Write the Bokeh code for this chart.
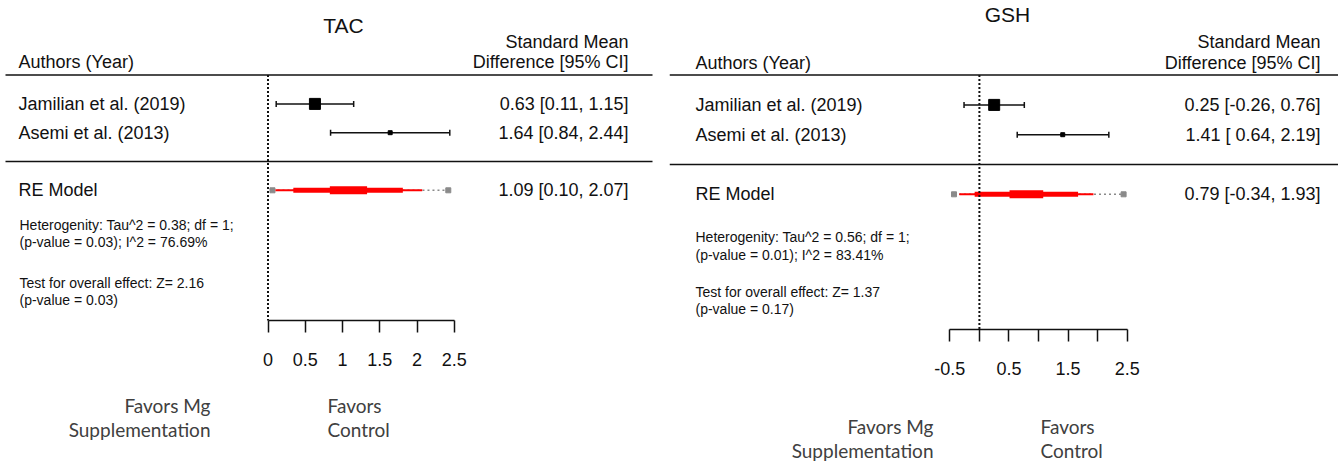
import numpy as np
from bokeh.plotting import figure
from bokeh.models import Range1d, LinearAxis, FixedTicker, CustomJSTickFormatter, Label
from bokeh.layouts import row
from bokeh.core.properties import value
from bokeh.embed import file_html
from bokeh.resources import INLINE

# ---------------- data ----------------
studies = ["Jamilian et al. (2019)", "Asemi et al. (2013)"]

# Total antioxidant capacity
tac_est = [0.63, 1.64]
tac_lo = [0.11, 0.84]
tac_hi = [1.15, 2.44]
tac_re = [1.09, 0.10, 2.07]          # pooled estimate, lower, upper
tac_re_mid = [0.34, 1.81]
tac_re_core = [0.83, 1.33]
tac_re_pred = [0.06, 2.42]
tac_ticks = [0, 0.5, 1, 1.5, 2, 2.5]
tac_tick_labels = ["0", "0.5", "1", "1.5", "2", "2.5"]
tac_het = ["Heterogenity: Tau^2 = 0.38; df = 1;", "(p-value = 0.03); I^2 = 76.69%"]
tac_test = ["Test for overall effect: Z= 2.16", "(p-value = 0.03)"]

# Glutathione
gsh_est = [0.25, 1.41]
gsh_lo = [-0.26, 0.64]
gsh_hi = [0.76, 2.19]
gsh_re = [0.79, -0.34, 1.93]
gsh_re_mid = [-0.08, 1.67]
gsh_re_core = [0.51, 1.08]
gsh_re_pred = [-0.43, 2.44]
gsh_ticks = [-0.5, 0, 0.5, 1, 1.5, 2, 2.5]
gsh_tick_labels = ["-0.5", "", "0.5", "", "1.5", "", "2.5"]
gsh_het = ["Heterogenity: Tau^2 = 0.56; df = 1;", "(p-value = 0.01); I^2 = 83.41%"]
gsh_test = ["Test for overall effect: Z= 1.37", "(p-value = 0.17)"]

FONT = "Liberation Sans"
SIDE = "Lato"
INK = "#111111"
W, H = 669, 462


def fmt_column(est, lo, hi):
    e = [f"{v:.2f}" for v in est]
    l = [f"{v:.2f}" for v in lo]
    h = [f"{v:.2f}" for v in hi]
    we, wl, wh = max(map(len, e)), max(map(len, l)), max(map(len, h))
    return [f"{a.rjust(we)} [{b.rjust(wl)}, {c.rjust(wh)}]" for a, b, c in zip(e, l, h)]


def panel(title, est, lo, hi, re, re_mid, re_core, re_pred, ticks, tick_labels,
          het, test, lay):
    zero, ppu, row0, step, axis_y = lay["zero"], lay["ppu"], lay["row0"], lay["step"], lay["axis_y"]

    def px2x(px):
        return (px - zero) / ppu

    y_top = row0 / step
    y_bottom = (row0 - H) / step
    y_axis = (row0 - axis_y) / step
    p = figure(width=W, height=H, output_backend="svg", toolbar_location=None,
               x_range=Range1d(px2x(0), px2x(W)), y_range=Range1d(y_bottom, y_top),
               x_axis_type=None, y_axis_type=None,
               min_border_left=0, min_border_right=0, min_border_top=0,
               min_border_bottom=0)
    p.outline_line_color = None
    p.background_fill_color = "white"
    p.border_fill_color = "white"

    def label(txt, x, y, align="left", size=18, font=FONT, color=INK):
        p.add_layout(Label(x=x, y=H - y, x_units="screen", y_units="screen",
                           text=txt, text_align=align, text_baseline="middle",
                           text_font_size=f"{size}px", text_font=font, text_color=color))

    k = len(est)
    ys = list(range(k, 0, -1))

    # separating rules
    xa, xb = px2x(lay["rule"][0]), px2x(lay["rule"][1])
    p.segment(x0=[xa, xa], y0=[k + 1, 0], x1=[xb, xb], y1=[k + 1, 0],
              line_color=INK, line_width=1.5)

    # pooled estimate: prediction interval, CI and inner bands
    p.segment(x0=[re_pred[0]], y0=[-1], x1=[re_pred[1]], y1=[-1],
              line_color="#8a8a8a", line_width=1.5, line_dash="2 3")
    p.scatter(x=re_pred, y=[-1, -1], marker="square", size=5,
              fill_color="#8a8a8a", line_color="#8a8a8a")
    p.segment(x0=[re[1]], y0=[-1], x1=[re[2]], y1=[-1],
              line_color="#ff0000", line_width=2, line_cap="butt")
    p.segment(x0=[re_mid[0]], y0=[-1], x1=[re_mid[1]], y1=[-1],
              line_color="#ff0000", line_width=5, line_cap="butt")
    p.segment(x0=[re_core[0]], y0=[-1], x1=[re_core[1]], y1=[-1],
              line_color="#ff0000", line_width=8, line_cap="butt")

    # study confidence intervals
    p.segment(x0=lo, y0=ys, x1=hi, y1=ys, line_color=INK, line_width=1.5)
    p.scatter(x=lo + hi, y=ys + ys, marker="dash", angle=np.pi / 2, size=6,
              line_color=INK, line_width=1.5)
    p.scatter(x=est, y=ys, marker="square", size=lay["sq"],
              fill_color="#000000", line_color="#000000")

    # line of no effect
    p.segment(x0=[0], y0=[k + 1], x1=[0], y1=[y_axis], line_color=INK,
              line_width=2, line_dash="2 2")

    # row labels and values
    p.text(x=[px2x(lay["left"])] * (k + 1), y=ys + [-1], text=studies + ["RE Model"],
           text_font=value(FONT), text_font_size="18px", text_baseline="middle",
           text_align="left", text_color=INK)
    p.text(x=[px2x(lay["right"])] * (k + 1), y=ys + [-1],
           text=fmt_column(est + [re[0]], lo + [re[1]], hi + [re[2]]),
           text_font=value(FONT), text_font_size="18px", text_baseline="middle",
           text_align="right", text_color=INK)

    # headers
    label(title, lay["title"][0], lay["title"][1], align="center", size=21)
    label("Authors (Year)", lay["left"], lay["hdr_y"][1])
    label("Standard Mean", lay["right"], lay["hdr_y"][0], align="right")
    label("Difference [95% CI]", lay["right"], lay["hdr_y"][1], align="right")

    # heterogeneity and overall test
    for txt, yy in zip(het + test, lay["het_y"]):
        label(txt, lay["het_x"], yy, size=14)

    # direction captions
    fy = lay["fav_y"]
    label("Favors Mg", lay["fav_r"], fy[0], align="right", size=19, font=SIDE, color="#404040")
    label("Supplementation", lay["fav_r"], fy[1], align="right", size=19, font=SIDE, color="#404040")
    label("Favors", lay["fav_l"], fy[0], size=19, font=SIDE, color="#404040")
    label("Control", lay["fav_l"], fy[1], size=19, font=SIDE, color="#404040")

    # effect-size axis, pinned at its row inside the frame
    ax = LinearAxis(ticker=FixedTicker(ticks=ticks),
                    formatter=CustomJSTickFormatter(args=dict(labels=tick_labels),
                                                    code="return labels[index];"),
                    fixed_location=y_axis)
    ax.bounds = (min(ticks), max(ticks))
    ax.axis_line_width = 1.5
    ax.axis_line_color = INK
    ax.major_tick_line_width = 1.5
    ax.major_tick_line_color = INK
    ax.major_tick_out = 12
    ax.major_tick_in = 0
    ax.minor_tick_out = 0
    ax.minor_tick_in = 0
    ax.major_label_standoff = 20
    ax.major_label_text_font = FONT
    ax.major_label_text_font_size = "18px"
    ax.major_label_text_color = INK
    p.add_layout(ax, "below")
    return p


tac_layout = dict(zero=267.5, ppu=74.5, row0=161, step=28.8, axis_y=320, sq=[11, 4],
                  rule=(5, 652), left=18, right=628, title=(343, 25), hdr_y=(41, 61),
                  het_x=19, het_y=(224, 241, 282, 299),
                  fav_r=210, fav_l=327, fav_y=(405, 429))
gsh_layout = dict(zero=309.9, ppu=59.1, row0=164, step=29.8, axis_y=329, sq=[11, 4],
                  rule=(0, 669), left=26, right=651, title=(338, 14), hdr_y=(41, 62),
                  het_x=26, het_y=(236, 254, 291, 308),
                  fav_r=264, fav_l=371, fav_y=(426, 450))

p1 = panel("TAC", tac_est, tac_lo, tac_hi, tac_re, tac_re_mid, tac_re_core, tac_re_pred,
           tac_ticks, tac_tick_labels, tac_het, tac_test, tac_layout)
p2 = panel("GSH", gsh_est, gsh_lo, gsh_hi, gsh_re, gsh_re_mid, gsh_re_core, gsh_re_pred,
           gsh_ticks, gsh_tick_labels, gsh_het, gsh_test, gsh_layout)

layout = row(p1, p2)
open("out.html", "w").write(file_html(layout, INLINE))
